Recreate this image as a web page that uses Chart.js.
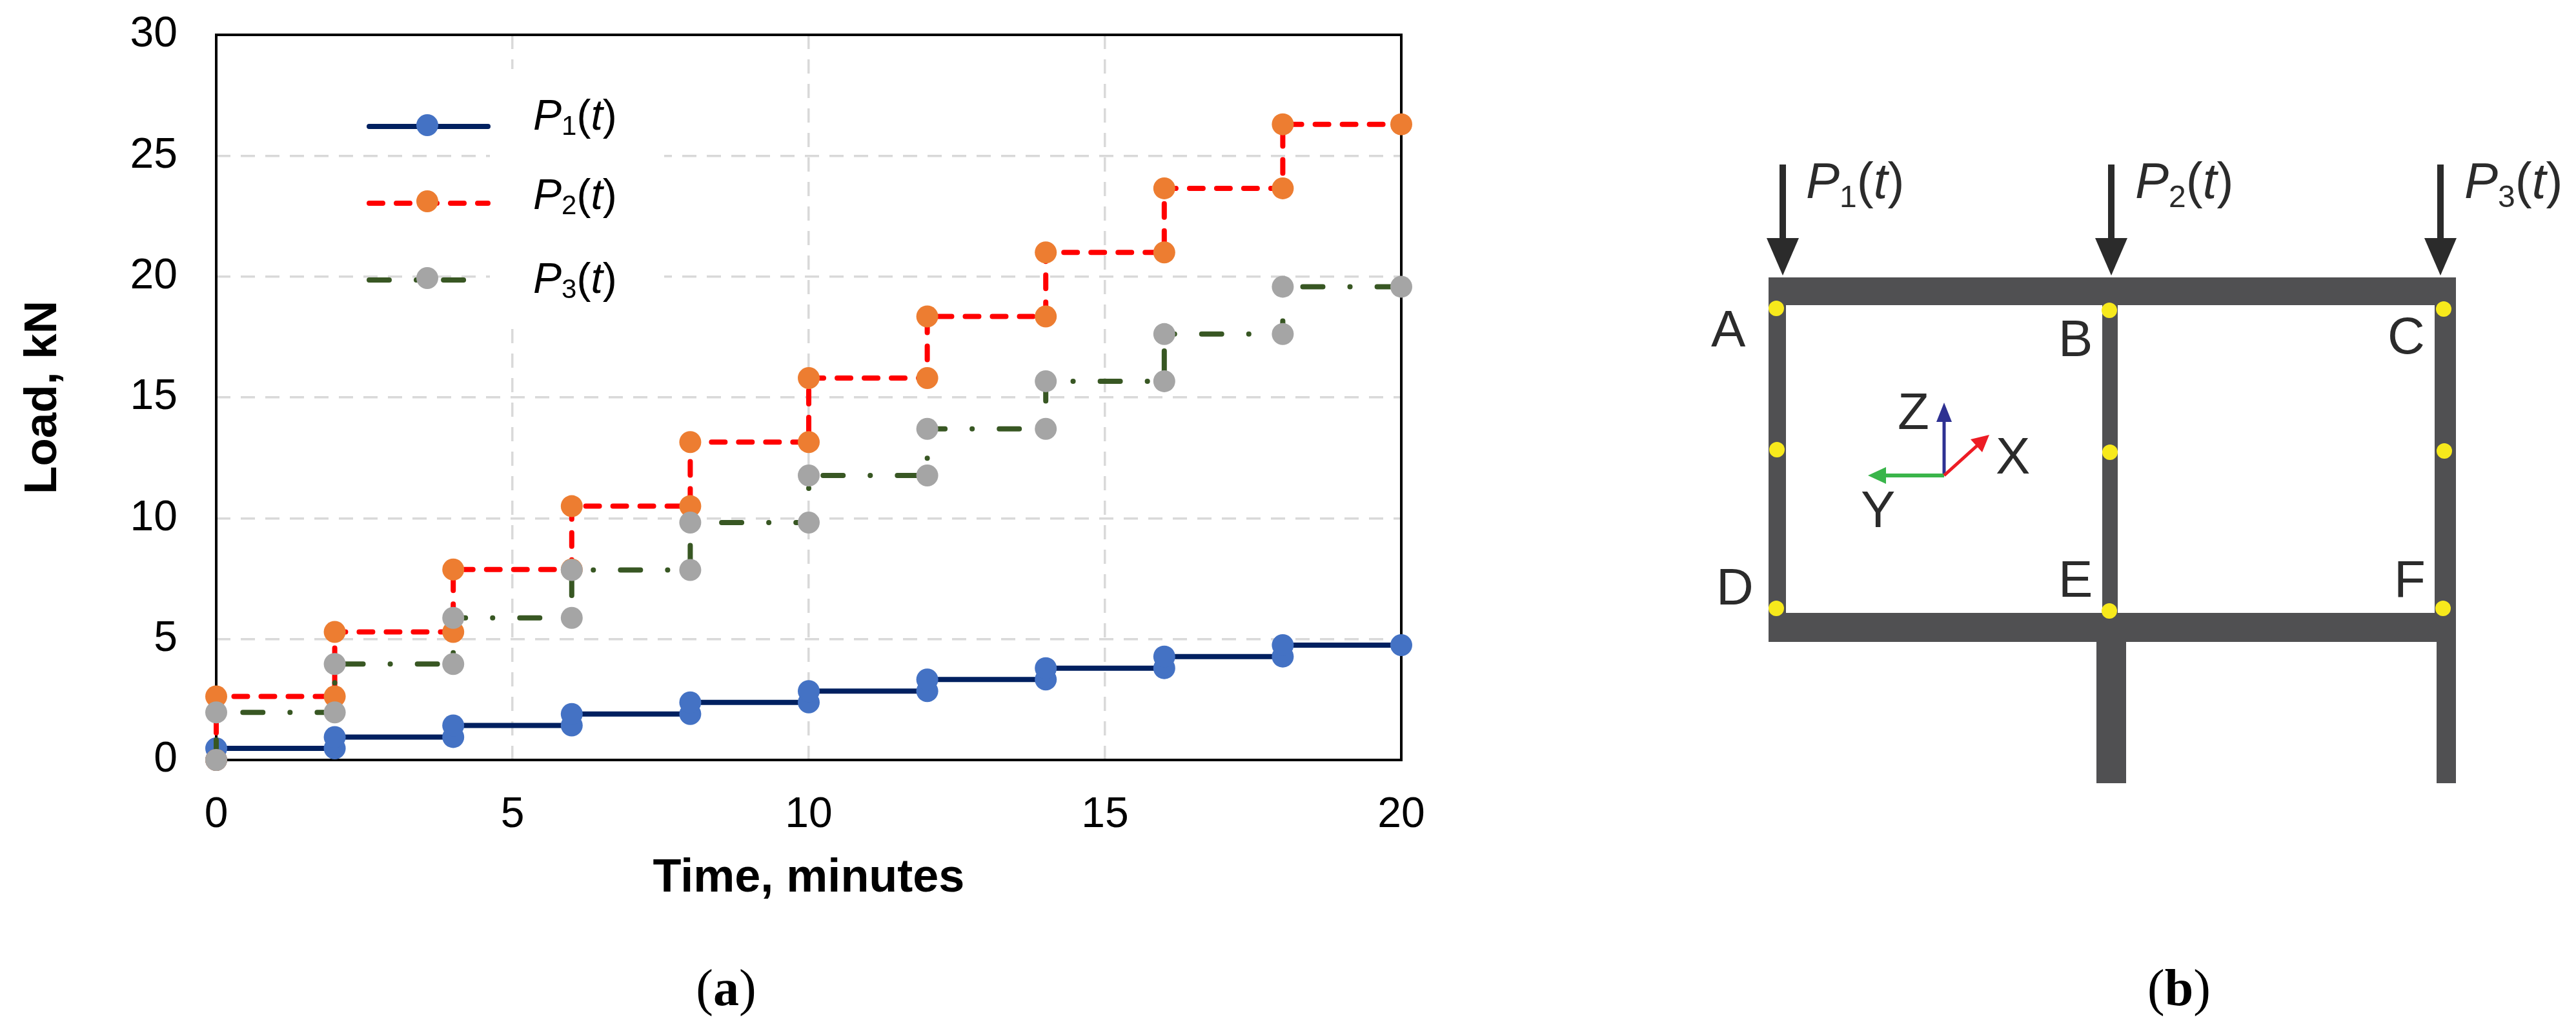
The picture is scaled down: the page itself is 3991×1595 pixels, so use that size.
<!DOCTYPE html>
<html lang="en">
<head>
    <meta charset="UTF-8">
    <title>Load history and frame layout</title>
    <script src="https://cdn.jsdelivr.net/npm/chart.js"></script>
    <style>
        html, body { margin: 0; padding: 0; background: #fff; }
        #page { position: relative; width: 3991px; height: 1595px; overflow: hidden; }
        #load-chart { position: absolute; left: 0; top: 0; }
        #overlay { position: absolute; left: 0; top: 0; }
        #overlay text { font-family: 'Liberation Sans', Arial, sans-serif; }
        #overlay .label { font-size: 80px; fill: #2b2b2b; }
        #overlay .force { font-size: 78px; fill: #2b2b2b; }
        #overlay .legend-text { font-size: 66px; fill: #000; }
        #overlay .caption { font-family: 'Liberation Serif', serif; font-size: 80px; fill: #000; }
        .beam { fill: #505052; }
        .joint { fill: #f7e91c; }
        .arrow { stroke: #2b2b2b; stroke-width: 10; }
        .arrow-head { fill: #2b2b2b; }
    </style>
</head>
<body>
<div id="page">
    <canvas id="load-chart" width="2400" height="1595"></canvas>

    <svg id="overlay" width="3991" height="1595" viewBox="0 0 3991 1595">
        <!-- legend of panel (a) -->
        <rect x="759" y="107" width="270" height="403" fill="#fff"/>
        <line x1="572" y1="196" x2="756" y2="196" stroke="#002060" stroke-width="8" stroke-linecap="round"/>
        <circle cx="662" cy="194" r="17" fill="#4472c4"/>
        <line x1="572" y1="315" x2="756" y2="315" stroke="#ff0000" stroke-width="8" stroke-linecap="round" stroke-dasharray="21 21"/>
        <circle cx="662" cy="312" r="17" fill="#ed7d31"/>
        <line x1="572" y1="434" x2="726" y2="434" stroke="#385723" stroke-width="8" stroke-linecap="round" stroke-dasharray="31 42 0.1 42"/>
        <circle cx="662" cy="431" r="17" fill="#a5a5a5"/>
        <text class="legend-text" x="826" y="201"><tspan font-style="italic">P</tspan><tspan font-size="42" dy="8">1</tspan><tspan dy="-8">(</tspan><tspan font-style="italic">t</tspan>)</text>
        <text class="legend-text" x="826" y="324"><tspan font-style="italic">P</tspan><tspan font-size="42" dy="8">2</tspan><tspan dy="-8">(</tspan><tspan font-style="italic">t</tspan>)</text>
        <text class="legend-text" x="826" y="454"><tspan font-style="italic">P</tspan><tspan font-size="42" dy="8">3</tspan><tspan dy="-8">(</tspan><tspan font-style="italic">t</tspan>)</text>

        <!-- panel (b) frame -->
        <rect class="beam" x="2740" y="430" width="1065" height="43"/>
        <rect class="beam" x="2740" y="950" width="1065" height="45"/>
        <rect class="beam" x="2740" y="473" width="27" height="477"/>
        <rect class="beam" x="3257" y="473" width="24" height="477"/>
        <rect class="beam" x="3772" y="473" width="33" height="477"/>
        <rect class="beam" x="3248" y="995" width="46" height="219"/>
        <rect class="beam" x="3775" y="995" width="30" height="219"/>

        <circle class="joint" cx="2752" cy="478" r="12"/>
        <circle class="joint" cx="2753" cy="697" r="12"/>
        <circle class="joint" cx="2752" cy="943" r="12"/>
        <circle class="joint" cx="3268" cy="481" r="12"/>
        <circle class="joint" cx="3269" cy="701" r="12"/>
        <circle class="joint" cx="3268" cy="947" r="12"/>
        <circle class="joint" cx="3786" cy="479" r="12"/>
        <circle class="joint" cx="3787" cy="699" r="12"/>
        <circle class="joint" cx="3785" cy="943" r="12"/>

        <!-- load arrows -->
        <line class="arrow" x1="2762" y1="255" x2="2762" y2="375"/>
        <polygon class="arrow-head" points="2737,369 2787,369 2762,427"/>
        <line class="arrow" x1="3271" y1="255" x2="3271" y2="375"/>
        <polygon class="arrow-head" points="3246,369 3296,369 3271,427"/>
        <line class="arrow" x1="3781" y1="255" x2="3781" y2="375"/>
        <polygon class="arrow-head" points="3756,369 3806,369 3781,427"/>

        <text class="force" x="2798" y="307"><tspan font-style="italic">P</tspan><tspan font-size="48" dy="14">1</tspan><tspan dy="-14">(</tspan><tspan font-style="italic">t</tspan>)</text>
        <text class="force" x="3308" y="307"><tspan font-style="italic">P</tspan><tspan font-size="48" dy="14">2</tspan><tspan dy="-14">(</tspan><tspan font-style="italic">t</tspan>)</text>
        <text class="force" x="3818" y="307"><tspan font-style="italic">P</tspan><tspan font-size="48" dy="14">3</tspan><tspan dy="-14">(</tspan><tspan font-style="italic">t</tspan>)</text>

        <text class="label" x="2651" y="537">A</text>
        <text class="label" x="3189" y="552">B</text>
        <text class="label" x="3699" y="548">C</text>
        <text class="label" x="2659" y="937">D</text>
        <text class="label" x="3189" y="925">E</text>
        <text class="label" x="3709" y="925">F</text>

        <!-- coordinate triad -->
        <line x1="3012" y1="737" x2="3012" y2="650" stroke="#2e3192" stroke-width="5"/>
        <polygon points="3000,654 3024,654 3012,624" fill="#2e3192"/>
        <line x1="3012" y1="737" x2="2920" y2="737" stroke="#39b54a" stroke-width="6"/>
        <polygon points="2922,724 2922,750 2894,737" fill="#39b54a"/>
        <line x1="3012" y1="737" x2="3064" y2="690" stroke="#ed1c24" stroke-width="5"/>
        <polygon points="3053,681 3071,701 3082,674" fill="#ed1c24"/>
        <text class="label" x="2940" y="665">Z</text>
        <text class="label" x="3092" y="734">X</text>
        <text class="label" x="2883" y="817">Y</text>

        <!-- panel captions -->
        <text class="caption" x="1125" y="1558" text-anchor="middle">(<tspan font-weight="bold">a</tspan>)</text>
        <text class="caption" x="3376" y="1558" text-anchor="middle">(<tspan font-weight="bold">b</tspan>)</text>
    </svg>
</div>

<script>
    const times = [0, 0, 2, 2, 4, 4, 6, 6, 8, 8, 10, 10, 12, 12, 14, 14, 16, 16, 18, 18, 20];
    const p1Values = [0, 0.48, 0.48, 0.95, 0.95, 1.43, 1.43, 1.9, 1.9, 2.38, 2.38, 2.85, 2.85, 3.33, 3.33, 3.8, 3.8, 4.28, 4.28, 4.75, 4.75];
    const p2Values = [0, 2.63, 2.63, 5.3, 5.3, 7.88, 7.88, 10.5, 10.5, 13.15, 13.15, 15.8, 15.8, 18.35, 18.35, 21, 21, 23.65, 23.65, 26.3, 26.3];
    const p3Values = [0, 1.97, 1.97, 3.97, 3.97, 5.88, 5.88, 7.86, 7.86, 9.82, 9.82, 11.77, 11.77, 13.7, 13.7, 15.67, 15.67, 17.62, 17.62, 19.58, 19.58];
    const xTicks = [0, 5, 10, 15, 20];
    const yTicks = [0, 5, 10, 15, 20, 25, 30];

    const fontFamily = "'Liberation Sans', Arial, sans-serif";
    const gridStyle = { color: '#d9d9d9', lineWidth: 3.5, drawTicks: false };
    const gridBorder = { display: false, dash: [22, 16] };

    function points(values) {
        return values.map((v, i) => ({ x: times[i], y: v }));
    }

    // frame around the plot, drawn under the markers like in the original
    const plotBox = {
        id: 'plotBox',
        beforeDatasetsDraw(chart) {
            const { ctx, chartArea: a } = chart;
            ctx.save();
            ctx.strokeStyle = '#000';
            ctx.lineWidth = 4;
            ctx.strokeRect(a.left, a.top, a.right - a.left, a.bottom - a.top);
            ctx.restore();
        }
    };

    new Chart(document.getElementById('load-chart'), {
        type: 'scatter',
        plugins: [plotBox],
        data: {
            datasets: [
                {
                    label: 'P1(t)', data: points(p1Values), showLine: true, order: 3, clip: false,
                    borderColor: '#002060', borderWidth: 8,
                    pointBackgroundColor: '#4472c4', pointBorderWidth: 0, pointRadius: 17
                },
                {
                    label: 'P2(t)', data: points(p2Values), showLine: true, order: 2, clip: false,
                    borderColor: '#ff0000', borderWidth: 8, borderDash: [21, 21], borderCapStyle: 'round',
                    pointBackgroundColor: '#ed7d31', pointBorderWidth: 0, pointRadius: 17
                },
                {
                    label: 'P3(t)', data: points(p3Values), showLine: true, order: 1, clip: false,
                    borderColor: '#385723', borderWidth: 8, borderDash: [31, 42, 0.1, 42], borderCapStyle: 'round',
                    pointBackgroundColor: '#a5a5a5', pointBorderWidth: 0, pointRadius: 17
                }
            ]
        },
        options: {
            responsive: false,
            animation: false,
            devicePixelRatio: 1,
            layout: { padding: { left: 0, top: 54, right: 229, bottom: 190 } },
            plugins: { legend: { display: false }, tooltip: { enabled: false } },
            scales: {
                x: {
                    type: 'linear', min: 0, max: 20,
                    afterBuildTicks: s => { s.ticks = xTicks.map(v => ({ value: v })); },
                    afterFit: s => { s.height = 227; },
                    grid: gridStyle,
                    border: gridBorder,
                    ticks: { color: '#000', padding: 46, maxRotation: 0, font: { family: fontFamily, size: 66 } },
                    title: {
                        display: true, text: 'Time, minutes', color: '#000', padding: 0,
                        font: { family: fontFamily, size: 72, weight: 'bold', lineHeight: 1.2 }
                    }
                },
                y: {
                    type: 'linear', min: 0, max: 30,
                    afterBuildTicks: s => { s.ticks = yTicks.map(v => ({ value: v })); },
                    // the tick padding would otherwise push the plot top down
                    afterFit: s => { s.width = 335; s.paddingTop = 0; s.paddingBottom = 0; },
                    grid: gridStyle,
                    border: gridBorder,
                    ticks: { color: '#000', padding: 60, font: { family: fontFamily, size: 66 } },
                    title: {
                        display: true, text: 'Load, kN', color: '#000', padding: { top: 25, bottom: 0 },
                        font: { family: fontFamily, size: 71, weight: 'bold', lineHeight: 1.2 }
                    }
                }
            }
        }
    });
</script>
</body>
</html>
